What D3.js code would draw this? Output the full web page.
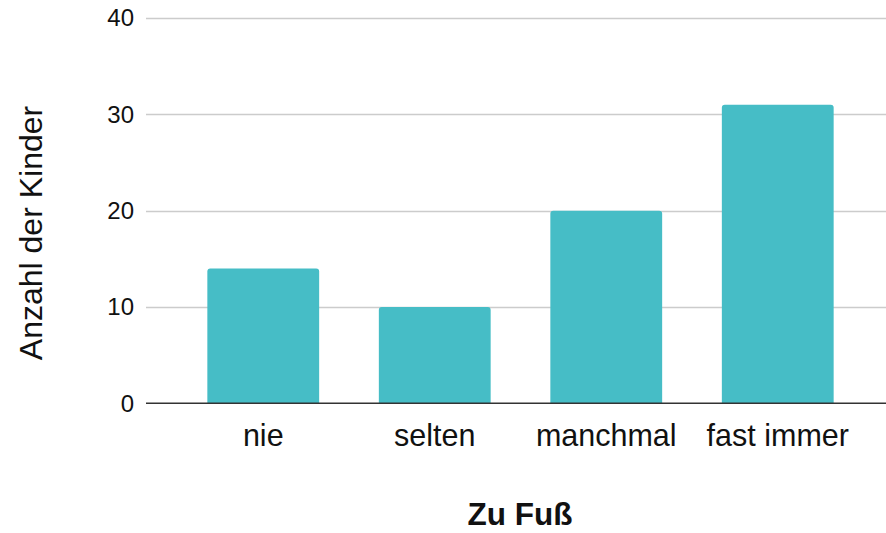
<!DOCTYPE html>
<html>
<head>
<meta charset="utf-8">
<script src="https://cdn.jsdelivr.net/npm/d3@7/dist/d3.min.js"></script>
<style>
html, body { margin: 0; padding: 0; background: #fff; }
svg { display: block; font-family: "Liberation Sans", Arial, sans-serif; }
</style>
</head>
<body>
<svg id="chart" width="886" height="533"></svg>
<script>
const categories = ["nie", "selten", "manchmal", "fast immer"];
const values = [14, 10, 20, 31];
const yTicks = [0, 10, 20, 30, 40];
const xTitle = "Zu Fuß";
const yTitle = "Anzahl der Kinder";

const svg = d3.select("#chart");
const gridLeft = 146, gridRight = 886;

const x = d3.scaleBand().domain(categories).range([177.5, 863.5])
  .paddingInner(0.348).paddingOuter(0.174);
const y = d3.scaleLinear().domain([0, 40]).range([403.3, 18]);

// gridlines
svg.append("g").selectAll("line").data(yTicks.filter(d => d !== 0)).join("line")
  .attr("x1", gridLeft).attr("x2", gridRight)
  .attr("y1", d => Math.round(y(d)) + 0.5).attr("y2", d => Math.round(y(d)) + 0.5)
  .attr("stroke", "#cccccc").attr("stroke-width", 1.5);

// y tick labels
svg.append("g").selectAll("text").data(yTicks).join("text")
  .attr("x", 134).attr("y", d => y(d))
  .attr("dy", "0.35em")
  .attr("text-anchor", "end")
  .attr("font-size", 24)
  .attr("fill", "#111")
  .text(d => d);

// bars with rounded top corners
const r = 3;
function barPath(d, i) {
  const x0 = x(categories[i]), w = x.bandwidth();
  const y0 = y(d), yb = y(0);
  return `M${x0},${yb} L${x0},${y0 + r} Q${x0},${y0} ${x0 + r},${y0} L${x0 + w - r},${y0} Q${x0 + w},${y0} ${x0 + w},${y0 + r} L${x0 + w},${yb} Z`;
}
svg.append("g").selectAll("path").data(values).join("path")
  .attr("d", (d, i) => barPath(d, i))
  .attr("fill", "#46bdc6");

// zero baseline
svg.append("line")
  .attr("x1", gridLeft).attr("x2", gridRight)
  .attr("y1", y(0)).attr("y2", y(0))
  .attr("stroke", "#333").attr("stroke-width", 1.5);

// x category labels
svg.append("g").selectAll("text").data(categories).join("text")
  .attr("x", d => x(d) + x.bandwidth() / 2)
  .attr("y", 445.5)
  .attr("text-anchor", "middle")
  .attr("font-size", 30.5)
  .attr("fill", "#111")
  .text(d => d);

// x title
svg.append("text")
  .attr("x", 520).attr("y", 525)
  .attr("text-anchor", "middle")
  .attr("font-size", 31.5)
  .attr("font-weight", "bold")
  .attr("fill", "#111")
  .text(xTitle);

// y title
svg.append("text")
  .attr("transform", "translate(42,233) rotate(-90)")
  .attr("text-anchor", "middle")
  .attr("font-size", 32)
  .attr("fill", "#111")
  .text(yTitle);
</script>
</body>
</html>
